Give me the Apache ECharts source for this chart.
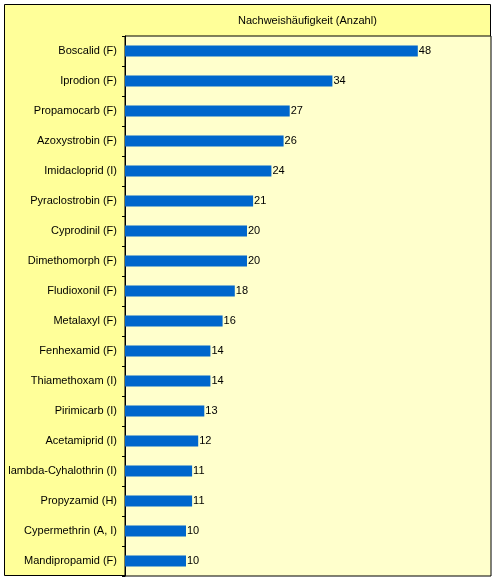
<!DOCTYPE html>
<html>
<head>
<meta charset="utf-8">
<script src="https://cdn.jsdelivr.net/npm/echarts@6/dist/echarts.min.js"></script>
<style>
  html, body { margin: 0; padding: 0; background: #fff; }
  #chart { width: 497px; height: 581px; }
</style>
</head>
<body>
<div id="chart"></div>
<script>
  // Wirkstoffe, von oben nach unten
  var wirkstoffe = ['Boscalid (F)', 'Iprodion (F)', 'Propamocarb (F)', 'Azoxystrobin (F)', 'Imidacloprid (I)',
    'Pyraclostrobin (F)', 'Cyprodinil (F)', 'Dimethomorph (F)', 'Fludioxonil (F)', 'Metalaxyl (F)',
    'Fenhexamid (F)', 'Thiamethoxam (I)', 'Pirimicarb (I)', 'Acetamiprid (I)', 'lambda-Cyhalothrin (I)',
    'Propyzamid (H)', 'Cypermethrin (A, I)', 'Mandipropamid (F)'];
  var anzahl = [48, 34, 27, 26, 24, 21, 20, 20, 18, 16, 14, 14, 13, 12, 11, 11, 10, 10];
  var titel = 'Nachweishäufigkeit (Anzahl)';

  var myChart = echarts.init(document.getElementById('chart'));
  var option = {
    backgroundColor: '#ffffff',
    animation: false,
    textStyle: { fontFamily: 'Liberation Sans, Arial, sans-serif' },
    graphic: [
      {
        type: 'rect',
        z: -10,
        shape: { x: 4.5, y: 4.5, width: 486, height: 571 },
        style: { fill: '#FFFF99', stroke: '#000', lineWidth: 1 }
      },
      {
        type: 'text',
        left: 308 - 70, top: 15,
        style: { text: titel, fill: '#000', font: '11px Liberation Sans, Arial, sans-serif' }
      }
    ],
    grid: {
      left: 125, top: 36, right: 6, bottom: 5,
      show: true,
      backgroundColor: '#FFFFCC',
      borderColor: '#000',
      borderWidth: 1
    },
    xAxis: {
      type: 'value',
      min: 0, max: 60,
      show: false
    },
    yAxis: {
      type: 'category',
      inverse: true,
      data: wirkstoffe,
      axisLine: { show: true, lineStyle: { color: '#000', width: 1 } },
      axisTick: { show: true, length: 3, lineStyle: { color: '#000' } },
      axisLabel: { color: '#000', fontSize: 11, margin: 8 }
    },
    series: [
      {
        type: 'bar',
        data: anzahl,
        barCategoryGap: '63%',
        itemStyle: { color: '#0066CC' },
        label: { show: true, position: 'right', distance: 1, color: '#000', fontSize: 11 }
      }
    ]
  };
  option && myChart.setOption(option, true);
</script>
</body>
</html>
